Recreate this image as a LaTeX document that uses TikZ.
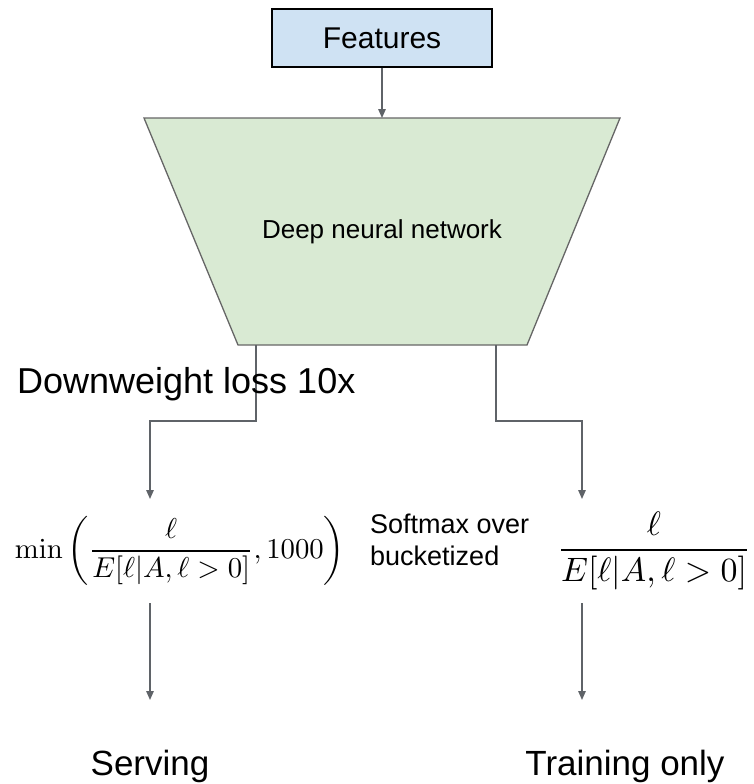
\documentclass[tikz,border=0pt]{standalone}
\usepackage[no-math]{fontspec}
\setmainfont{Liberation Sans}
\usetikzlibrary{arrows.meta,calc}
\definecolor{featfill}{HTML}{CFE2F3}
\definecolor{dnnfill}{HTML}{D9EAD3}
\definecolor{linegray}{HTML}{5F6368}
\definecolor{edgegray}{HTML}{666666}
\tikzset{
  conn/.style={draw=linegray, line width=1.4pt, -{Triangle[length=9pt,width=7.5pt]}},
  featbox/.style={draw=black, line width=1.5pt, fill=featfill, minimum width=220pt, minimum height=58pt, inner sep=0pt},
  lbl/.style={inner sep=0pt, text=black},
}
\begin{document}
\begin{tikzpicture}[x=1pt,y=-1pt]
\useasboundingbox (0,0) rectangle (754,784);

% input block
\node[featbox, font=\fontsize{30}{34}\selectfont] (feat) at (382,38) {Features};

% network body
\coordinate (tl) at (144,118);
\coordinate (tr) at (620,118);
\coordinate (br) at (527,345);
\coordinate (bl) at (238,345);
\filldraw[fill=dnnfill, draw=edgegray, line width=1.3pt] (tl) -- (tr) -- (br) -- (bl) -- cycle;
\node[lbl, font=\fontsize{26}{30}\selectfont] (dnn) at (382,232) {Deep neural network};
\coordinate (dnntop) at (382,118);
\coordinate (outL) at (256,345);
\coordinate (outR) at (496,345);

\draw[conn] (feat.south) -- (dnntop);

% branch targets
\coordinate (tipL) at (150,499);
\coordinate (tipR) at (582,499);
\draw[conn] (outL) -- (256,421) -| (tipL);
\draw[conn] (outR) -- (496,421) -| (tipR);

\node[lbl, anchor=base west, font=\fontsize{36}{40}\selectfont] (down) at (17,393) {Downweight loss 10x};

% losses
\node[lbl] (minf) at (180,551) {\resizebox{330pt}{!}{$\displaystyle\min\left(\frac{\ell}{E[\ell|A,\ell>0]},1000\right)$}};
\node[lbl] (fracR) at (654,551) {\resizebox{194pt}{!}{$\displaystyle\frac{\ell}{E[\ell|A,\ell>0]}$}};
\node[lbl, anchor=west, align=left, font=\fontsize{27}{32}\selectfont] (soft) at (370,540) {Softmax over\\bucketized};

% outputs
\coordinate (sL) at (150,603);
\coordinate (sR) at (582,603);
\coordinate (eL) at (150,700);
\coordinate (eR) at (582,700);
\draw[conn] (sL) -- (eL);
\draw[conn] (sR) -- (eR);
\node[lbl, anchor=base, font=\fontsize{35}{40}\selectfont] (serv) at (150,775) {Serving};
\node[lbl, anchor=base, font=\fontsize{35}{40}\selectfont] (train) at (625,775) {Training only};
\end{tikzpicture}
\end{document}
